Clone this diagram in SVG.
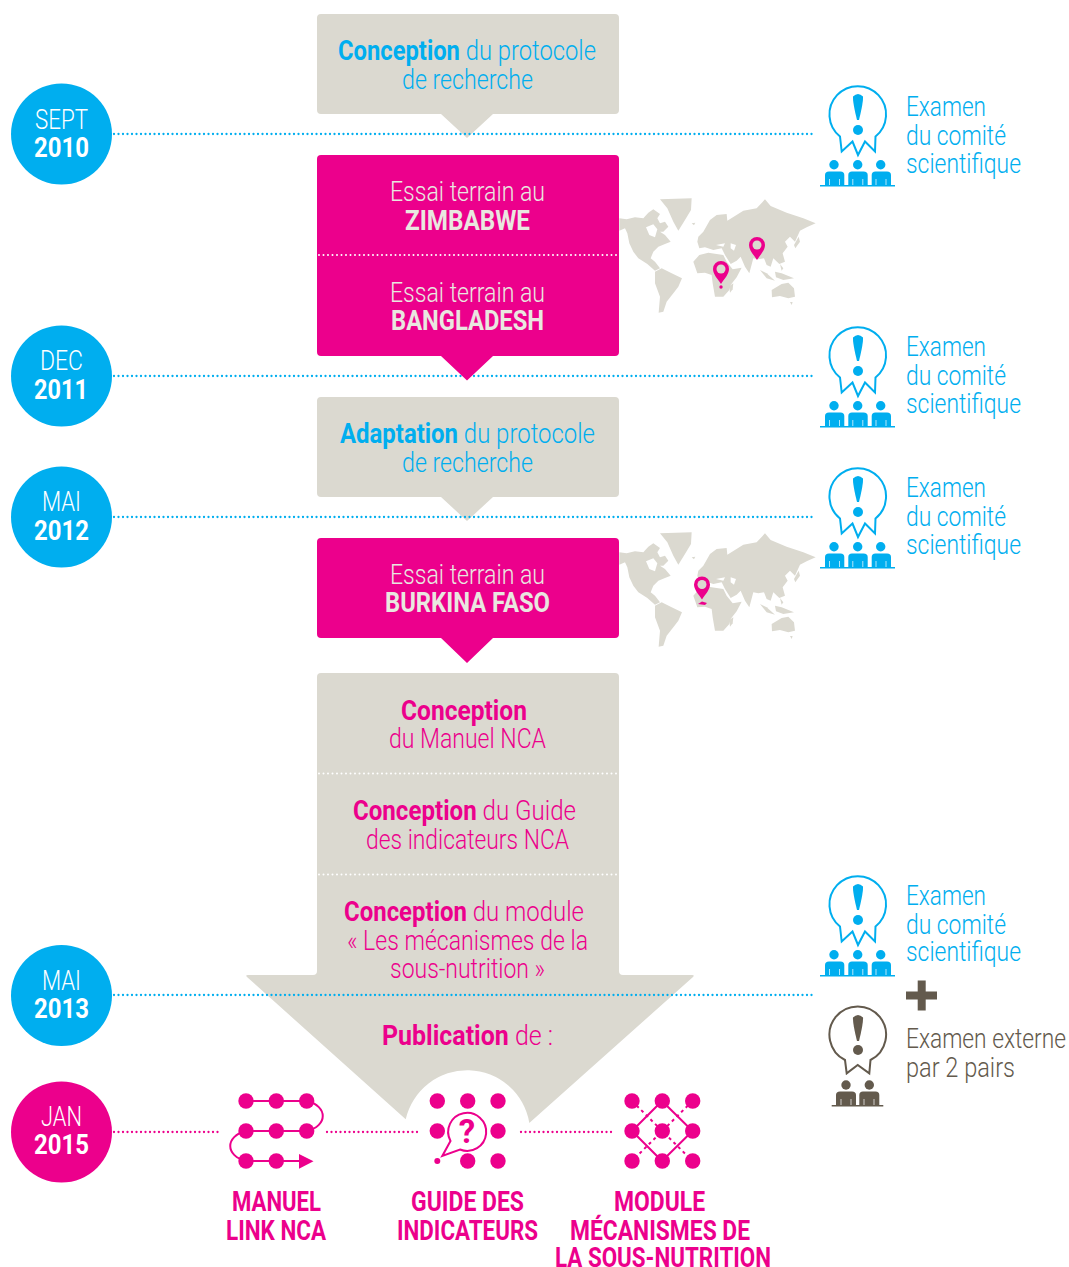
<svg xmlns="http://www.w3.org/2000/svg" xmlns:xlink="http://www.w3.org/1999/xlink" width="1069" height="1267" viewBox="0 0 1069 1267">
<style>
text{font-family:"Roboto","Liberation Sans",sans-serif;font-size:28px;font-weight:300}
.b{font-weight:700}
.w{fill:#fff}.t{fill:#e9e7e0}.c{fill:#00aeef}.m{fill:#ec008c}.g{fill:#635a4d}
.grey{fill:#dbd9d0}.mag{fill:#ec008c}
.dotb{stroke:#00aeef;stroke-width:2.3;stroke-linecap:round;stroke-dasharray:0 4.5;fill:none}
.dotm{stroke:#ec008c;stroke-width:2.3;stroke-linecap:round;stroke-dasharray:0 4.5;fill:none}
.dotw{stroke:#fff;stroke-width:2;stroke-linecap:round;stroke-dasharray:0 4.5;fill:none}
.ln{stroke:#ec008c;stroke-width:2;fill:none}
.pt{fill:#ec008c}
.lab{font-weight:700;fill:#ec008c}
</style>
<defs>
<g id="map" transform="scale(.3333)" fill="#dbd9d0" fill-rule="evenodd">
<path d="M150 28L245 25L243 60L225 90L205 122L190 95L172 55Z"/>
<path d="M245 100L256 98L252 106Z"/>
<path d="M28 85L50 88L75 82L100 85L115 68L130 58L150 72L142 85L150 100L165 95L175 110L160 125L150 125L165 135L182 155L165 162L145 170L130 185L122 205L135 215L150 235L135 242L112 222L85 205L70 185L58 160L52 130L45 115L28 122ZM108 112L130 103L142 118L135 142L118 135Z"/>
<path d="M135 245L155 235L185 250L216 265L205 290L190 310L170 335L160 365L146 368L150 320L135 280Z"/>
<path d="M250 215L268 195L295 188L340 195L350 215L368 238L395 233L380 262L362 285L358 300L340 320L315 320L308 280L305 255L285 248L262 250Z"/>
<path d="M358 288L370 280L368 298L360 308Z"/>
<path d="M265 140L280 125L300 90L320 75L350 72L352 92L400 62L440 55L465 28L482 48L530 68L580 85L617 100L590 112L570 122L555 155L540 140L525 155L533 170L518 190L525 215L508 222L490 205L482 230L470 225L462 205L445 208L430 205L418 250L405 230L392 200L380 212L362 222L345 195L335 175L310 180L285 172L268 175L262 155ZM362 160L378 165L372 182L362 175ZM318 165L345 160L340 170Z"/>
<path d="M272 148L275 133L286 125L286 150Z"/>
<path d="M552 165L566 140L570 155L556 175Z"/>
<path d="M450 240L470 250L495 272L470 265Z"/>
<path d="M495 245L515 250L552 265L520 270L498 262Z"/>
<path d="M510 222L520 235L515 242Z"/>
<path d="M485 300L515 282L535 278L552 295L555 320L535 325L510 318L486 322Z"/>
<path d="M540 336L548 336L545 345Z"/>
</g>
<path id="pin" d="M0 0C-4 -6 -8 -10 -8 -15A8 8 0 1 1 8 -15C8 -10 4 -6 0 0Z"/>
<g id="review">
<path d="M840 136.500A28.300 28.300 0 1 1 875.500 136.500L875 151.500L865 141.500L858 155L852.500 141.500L841.700 151.500Z" fill="#fff" stroke="currentColor" stroke-width="2"/>
<path d="M853 96.500Q858 91.500 863 96.500Q863.500 102 859 120H857Q852.500 102 853 96.500Z" fill="currentColor"/>
<circle cx="858" cy="130" r="5" fill="currentColor"/>
<g fill="currentColor">
<circle cx="834" cy="164.700" r="4.700"/><circle cx="857.700" cy="164.700" r="4.700"/><circle cx="880.700" cy="164.700" r="4.700"/>
<path d="M825 185V175Q825 171.500 829 171.500H840.500Q844.300 171.500 844.300 175V185Z"/>
<path d="M848.300 185V175Q848.300 171.500 852 171.500H863.500Q867.700 171.500 867.700 175V185Z"/>
<path d="M871.700 185V175Q871.700 171.500 875.500 171.500H887Q891 171.500 891 175V185Z"/>
</g>
<path d="M829.500 179V185M839.500 179V185M852.800 179V185M862.800 179V185M876 179V185M886 179V185" stroke="#fff" stroke-width=".7"/>
<path d="M820 185.700H895" stroke="currentColor" stroke-width="1.600"/>
</g>
</defs>

<g id="box-conception-protocole">
<path class="grey" d="M321 14H615Q619 14 619 18V110Q619 114 615 114H493L467 138L441 114H321Q317 114 317 110V18Q317 14 321 14Z"/>
<text x="338" y="60" textLength="258" lengthAdjust="spacingAndGlyphs" class="c"><tspan class="b">Conception</tspan> du protocole</text>
<text x="402" y="89" textLength="131" lengthAdjust="spacingAndGlyphs" class="c">de recherche</text>
</g>
<g id="box-zimbabwe">
<path class="mag" d="M321 155H615Q619 155 619 159V255H317V159Q317 155 321 155Z"/>
<text x="390" y="201" textLength="155" lengthAdjust="spacingAndGlyphs" class="t">Essai terrain au</text>
<text x="405" y="230" textLength="125" lengthAdjust="spacingAndGlyphs" class="t b">ZIMBABWE</text>
</g>
<g id="box-adaptation">
<path class="grey" d="M321 397H615Q619 397 619 401V493Q619 497 615 497H493L467 521L441 497H321Q317 497 317 493V401Q317 397 321 397Z"/>
<text x="340" y="443" textLength="255" lengthAdjust="spacingAndGlyphs" class="c"><tspan class="b">Adaptation</tspan> du protocole</text>
<text x="402" y="472" textLength="131" lengthAdjust="spacingAndGlyphs" class="c">de recherche</text>
</g>
<g id="box-manuel">
<path class="grey" d="M321 673H615Q619 673 619 677V773H317V677Q317 673 321 673Z"/>
<text x="401" y="720" textLength="126" lengthAdjust="spacingAndGlyphs" class="m b">Conception</text>
<text x="389" y="748" textLength="157" lengthAdjust="spacingAndGlyphs" class="m">du Manuel NCA</text>
</g>
<g id="box-guide">
<rect class="grey" x="317" y="773" width="302" height="102"/>
<text x="353" y="820" textLength="223" lengthAdjust="spacingAndGlyphs" class="m"><tspan class="b">Conception</tspan> du Guide</text>
<text x="366" y="849" textLength="203" lengthAdjust="spacingAndGlyphs" class="m">des indicateurs NCA</text>
</g>
<g id="box-module">
<path class="grey" d="M317 875H619V971Q619 975 623 975H692Q695 975 693 977L529.300 1123A63 63 0 0 0 405.700 1119.300L247 977Q245 975 248 975H313Q317 975 317 971Z"/>
<text x="344" y="921" textLength="240" lengthAdjust="spacingAndGlyphs" class="m"><tspan class="b">Conception</tspan> du module</text>
<text x="347" y="950" textLength="241" lengthAdjust="spacingAndGlyphs" class="m">« Les mécanismes de la</text>
<text x="390" y="978" textLength="155" lengthAdjust="spacingAndGlyphs" class="m">sous-nutrition »</text>
<text x="382" y="1045" textLength="171" lengthAdjust="spacingAndGlyphs" class="m"><tspan class="b">Publication</tspan> de :</text>
</g>

<g id="connectors">
<path class="dotb" d="M114 134H814M114 376H814M114 517H814M114 995H814"/>
<path class="dotm" d="M114 1132H220M327 1132H418M521 1132H615"/>
</g>

<g id="box-bangladesh">
<path class="mag" d="M317 255H619V352Q619 356 615 356H493L467 380.500L441 356H321Q317 356 317 352Z"/>
<text x="390" y="302" textLength="155" lengthAdjust="spacingAndGlyphs" class="t">Essai terrain au</text>
<text x="391" y="330" textLength="153" lengthAdjust="spacingAndGlyphs" class="t b">BANGLADESH</text>
</g>
<g id="box-burkina">
<path class="mag" d="M321 538H615Q619 538 619 542V634Q619 638 615 638H493L467 663L441 638H321Q317 638 317 634V542Q317 538 321 538Z"/>
<text x="390" y="584" textLength="155" lengthAdjust="spacingAndGlyphs" class="t">Essai terrain au</text>
<text x="385" y="612" textLength="165" lengthAdjust="spacingAndGlyphs" class="t b">BURKINA FASO</text>
</g>
<g id="separators">
<path class="dotw" d="M319 255H618M319 773.500H618M319 874.500H618"/>
</g>

<g id="map-1">
<use xlink:href="#map" href="#map" transform="translate(610 190)"/>
<use xlink:href="#pin" href="#pin" x="757" y="260" class="pt"/><circle cx="757" cy="245" r="4.500" fill="#dbd9d0"/>
<use xlink:href="#pin" href="#pin" x="721" y="284" class="pt"/><circle cx="721" cy="269" r="4.500" fill="#dbd9d0"/>
<circle cx="721" cy="287" r="1.700" class="pt"/>
</g>
<g id="map-2">
<use xlink:href="#map" href="#map" transform="translate(610 524)"/>
<use xlink:href="#pin" href="#pin" x="702" y="599.500" class="pt"/><circle cx="702" cy="584.500" r="4.500" fill="#dbd9d0"/>
<path d="M698 604L702 601.500L707 603L705 605Z" class="pt"/>
</g>

<g id="date-sept-2010">
<circle cx="61.500" cy="134" r="50.500" fill="#00aeef"/>
<text x="35" y="129" textLength="53" lengthAdjust="spacingAndGlyphs" class="w">SEPT</text>
<text x="34" y="157" textLength="55" lengthAdjust="spacingAndGlyphs" class="w b">2010</text>
</g>
<g id="date-dec-2011">
<circle cx="61.500" cy="376" r="50.500" fill="#00aeef"/>
<text x="40" y="370" textLength="43" lengthAdjust="spacingAndGlyphs" class="w">DEC</text>
<text x="34" y="399" textLength="54" lengthAdjust="spacingAndGlyphs" class="w b">2011</text>
</g>
<g id="date-mai-2012">
<circle cx="61.500" cy="517" r="50.500" fill="#00aeef"/>
<text x="42" y="511" textLength="39" lengthAdjust="spacingAndGlyphs" class="w">MAI</text>
<text x="34" y="540" textLength="55" lengthAdjust="spacingAndGlyphs" class="w b">2012</text>
</g>
<g id="date-mai-2013">
<circle cx="61.500" cy="995.500" r="50.500" fill="#00aeef"/>
<text x="42" y="990" textLength="39" lengthAdjust="spacingAndGlyphs" class="w">MAI</text>
<text x="34" y="1018" textLength="55" lengthAdjust="spacingAndGlyphs" class="w b">2013</text>
</g>
<g id="date-jan-2015">
<circle cx="61.500" cy="1132" r="50.500" fill="#ec008c"/>
<text x="41" y="1126" textLength="41" lengthAdjust="spacingAndGlyphs" class="w">JAN</text>
<text x="34" y="1154" textLength="55" lengthAdjust="spacingAndGlyphs" class="w b">2015</text>
</g>

<g id="review-1" color="#00aeef">
<use xlink:href="#review" href="#review"/>
<text x="906" y="116" textLength="80" lengthAdjust="spacingAndGlyphs" class="c">Examen</text>
<text x="906" y="145" textLength="100" lengthAdjust="spacingAndGlyphs" class="c">du comité</text>
<text x="906" y="173" textLength="115" lengthAdjust="spacingAndGlyphs" class="c">scientifique</text>
</g>
<g id="review-2" color="#00aeef">
<use xlink:href="#review" href="#review" y="241"/>
<text x="906" y="356" textLength="80" lengthAdjust="spacingAndGlyphs" class="c">Examen</text>
<text x="906" y="385" textLength="100" lengthAdjust="spacingAndGlyphs" class="c">du comité</text>
<text x="906" y="413" textLength="115" lengthAdjust="spacingAndGlyphs" class="c">scientifique</text>
</g>
<g id="review-3" color="#00aeef">
<use xlink:href="#review" href="#review" y="382"/>
<text x="906" y="497" textLength="80" lengthAdjust="spacingAndGlyphs" class="c">Examen</text>
<text x="906" y="526" textLength="100" lengthAdjust="spacingAndGlyphs" class="c">du comité</text>
<text x="906" y="554" textLength="115" lengthAdjust="spacingAndGlyphs" class="c">scientifique</text>
</g>
<g id="review-4" color="#00aeef">
<use xlink:href="#review" href="#review" y="790"/>
<text x="906" y="905" textLength="80" lengthAdjust="spacingAndGlyphs" class="c">Examen</text>
<text x="906" y="934" textLength="100" lengthAdjust="spacingAndGlyphs" class="c">du comité</text>
<text x="906" y="961" textLength="115" lengthAdjust="spacingAndGlyphs" class="c">scientifique</text>
</g>
<g id="plus"><path d="M917.700 980.500H925.700V991.500H937V999.500H925.700V1010.500H917.700V999.500H906V991.500H917.700Z" fill="#635a4d"/></g>
<g id="review-external">
<path d="M845 1060A28.300 28.300 0 1 1 870.500 1060L869.300 1073.300L857.700 1065L846.700 1073.300Z" fill="#fff" stroke="#635a4d" stroke-width="2"/>
<path d="M853 1017.500Q858 1012.500 863 1017.500Q863.500 1023 859 1041H857Q852.500 1023 853 1017.500Z" fill="#635a4d"/>
<circle cx="858" cy="1050" r="5" fill="#635a4d"/>
<circle cx="846" cy="1085" r="4.700" fill="#635a4d"/><circle cx="869.300" cy="1085" r="4.700" fill="#635a4d"/>
<path d="M836 1105V1095Q836 1091.500 840 1091.500H852Q856 1091.500 856 1095V1105ZM859.300 1105V1095Q859.300 1091.500 863 1091.500H875.500Q879.300 1091.500 879.300 1095V1105Z" fill="#635a4d"/>
<path d="M841 1099V1105M851 1099V1105M864 1099V1105M874 1099V1105" stroke="#fff" stroke-width=".7"/>
<path d="M831.700 1105.700H883.300" stroke="#635a4d" stroke-width="1.600"/>
<text x="906" y="1048" textLength="160" lengthAdjust="spacingAndGlyphs" class="g">Examen externe</text>
<text x="906" y="1077" textLength="109" lengthAdjust="spacingAndGlyphs" class="g">par 2 pairs</text>
</g>

<g id="output-manuel">
<path class="ln" d="M246 1101H307C328 1106 328 1126 307 1131H246C225 1136 225 1156 246 1161H300"/>
<path class="pt" d="M299 1154L313.500 1161.300L299 1168.700Z"/>
<g class="pt"><circle cx="246" cy="1101" r="7.700"/><circle cx="276.300" cy="1101" r="7.700"/><circle cx="306.700" cy="1101" r="7.700"/><circle cx="246" cy="1131" r="7.700"/><circle cx="276.300" cy="1131" r="7.700"/><circle cx="306.700" cy="1131" r="7.700"/><circle cx="246" cy="1161" r="7.700"/><circle cx="276.300" cy="1161" r="7.700"/></g>
<text x="232" y="1211" textLength="89" lengthAdjust="spacingAndGlyphs" class="lab">MANUEL</text>
<text x="226" y="1240" textLength="100" lengthAdjust="spacingAndGlyphs" class="lab">LINK NCA</text>
</g>
<g id="output-guide">
<g class="pt"><circle cx="437.300" cy="1101" r="7.700"/><circle cx="467.700" cy="1101" r="7.700"/><circle cx="498" cy="1101" r="7.700"/><circle cx="437.300" cy="1131" r="7.700"/><circle cx="498" cy="1131" r="7.700"/><circle cx="437.300" cy="1161" r="3"/><circle cx="467.700" cy="1161" r="7.700"/><circle cx="498" cy="1161" r="7.700"/></g>
<path d="M450.500 1141A19 19 0 1 1 460 1149.500L442.300 1156Z" fill="#fff" stroke="#ec008c" stroke-width="2"/>
<text x="467" y="1143" text-anchor="middle" class="m b" style="font-size:33px">?</text>
<text x="411" y="1211" textLength="113" lengthAdjust="spacingAndGlyphs" class="lab">GUIDE DES</text>
<text x="397" y="1240" textLength="141" lengthAdjust="spacingAndGlyphs" class="lab">INDICATEURS</text>
</g>
<g id="output-module">
<path class="ln" d="M662 1101L692.500 1131L662 1161L632 1131Z"/>
<path d="M632 1101L692.500 1161M692.500 1101L632 1161" stroke="#ec008c" stroke-width="2" stroke-dasharray="3 3.500" fill="none"/>
<g class="pt"><circle cx="632" cy="1101" r="7.700"/><circle cx="662.300" cy="1101" r="7.700"/><circle cx="692.700" cy="1101" r="7.700"/><circle cx="632" cy="1131" r="7.700"/><circle cx="662.300" cy="1131" r="7.700"/><circle cx="692.700" cy="1131" r="7.700"/><circle cx="632" cy="1161" r="7.700"/><circle cx="662.300" cy="1161" r="7.700"/><circle cx="692.700" cy="1161" r="7.700"/></g>
<text x="614" y="1211" textLength="91" lengthAdjust="spacingAndGlyphs" class="lab">MODULE</text>
<text x="570" y="1240" textLength="180" lengthAdjust="spacingAndGlyphs" class="lab">MÉCANISMES DE</text>
<text x="555" y="1267" textLength="216" lengthAdjust="spacingAndGlyphs" class="lab">LA SOUS-NUTRITION</text>
</g>
</svg>
